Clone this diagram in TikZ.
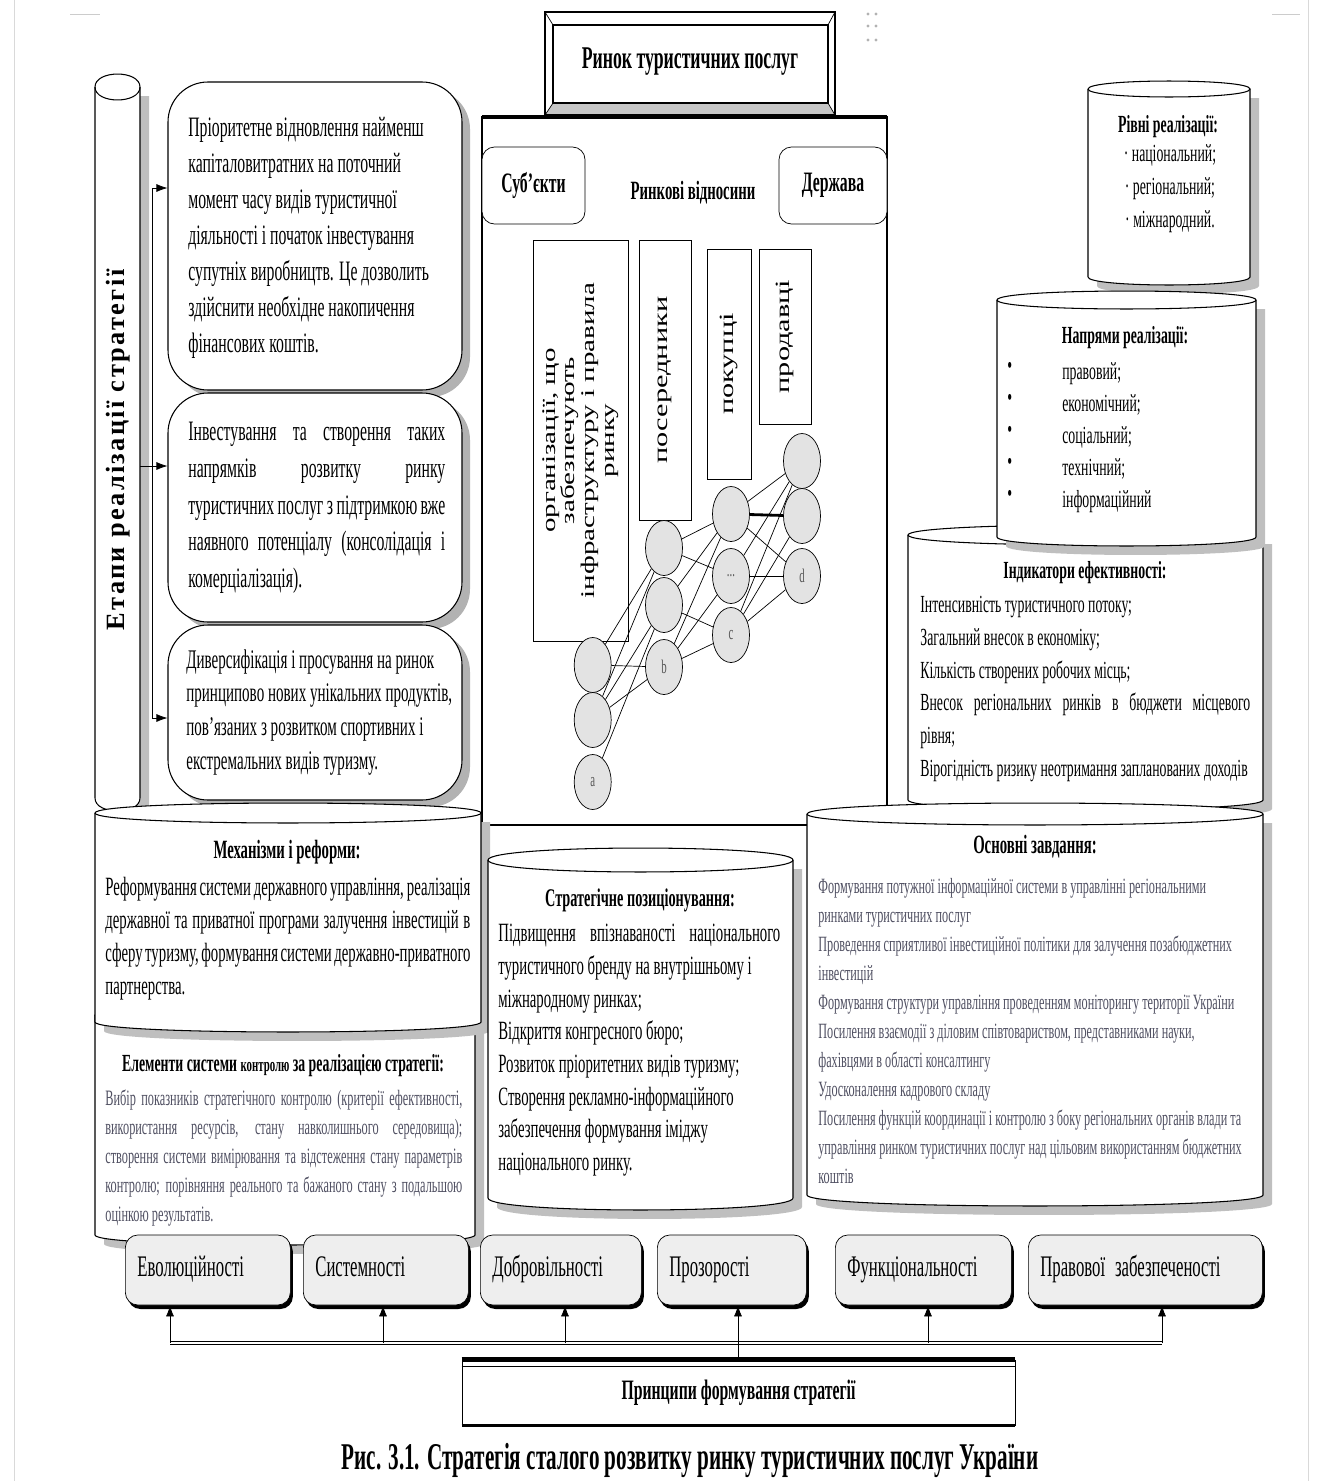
\documentclass[tikz,border=0pt]{standalone}
\usepackage{fontspec}
\setmainfont{Liberation Serif}[FakeStretch=0.56]
\newfontfamily\rfont{Liberation Serif}[FakeStretch=1.5]
\newfontfamily\efont{Liberation Serif}[LetterSpace=9]
\usetikzlibrary{calc, shapes.geometric, arrows.meta, shadows}
\definecolor{greytxt}{RGB}{80,80,98}
\newcommand{\fs}[2]{\fontsize{#1}{#2}\selectfont}
\newcommand{\jl}[2]{\makebox[#1][s]{#2}}
\newcommand{\cyl}[5]{
    % #1: x left, #2: y of lid, #3: x right, #4: y of bottom, #5: lid radius
    \fill[gray!50] (#1+9,#2+9) -- (#1+9,#4+9) .. controls (#1+9,#4+9+1.33*#5) and (#3+9,#4+9+1.33*#5) .. (#3+9,#4+9) -- (#3+9,#2+9) -- cycle;
    \filldraw[fill=white, semithick] (#1,#2) -- (#1,#4) .. controls (#1,#4+1.33*#5) and (#3,#4+1.33*#5) .. (#3,#4) -- (#3,#2) .. controls (#3,#2-1.33*#5) and (#1,#2-1.33*#5) .. cycle;
    \draw[semithick] (#1,#2) .. controls (#1,#2+1.33*#5) and (#3,#2+1.33*#5) .. (#3,#2);
}

\begin{document}
\begin{tikzpicture}[x=0.2mm, y=-0.2mm]
    \useasboundingbox (0,0) rectangle (1317,1481);
    \tikzstyle{txt}=[inner sep=0, anchor=north west, align=left]
    \tikzstyle{head}=[inner sep=0, font=\bfseries\fs{14}{16}]
    \tikzstyle{stage}=[draw, semithick, rounded corners=8mm, fill=white, minimum width=58.8mm, inner sep=0, drop shadow={fill=gray!60, opacity=1, shadow xshift=1.6mm, shadow yshift=-1.4mm}]
    \tikzstyle{subbox}=[draw, rounded corners=2.5mm, fill=white, inner sep=0, font=\bfseries\fs{16}{18}]
    \tikzstyle{vbox}=[draw, rotate=90, inner sep=0, font=\rfont\fs{11.5}{13}]
    \tikzstyle{neuron}=[ellipse, draw, fill=gray!22, minimum width=7.4mm, minimum height=11mm, inner sep=0, font=\fs{11}{12}, text=gray!70!black]
    \tikzstyle{princ}=[draw, rounded corners=2.5mm, fill=gray!13, minimum height=14mm, inner xsep=2.4mm, text height=3.6mm, text depth=1.2mm, anchor=west, align=left, font=\fs{17}{19}, drop shadow={fill=black, opacity=1, shadow xshift=0.5mm, shadow yshift=-0.8mm}]
    \tikzstyle{arr}=[-{Latex[length=2.2mm,width=1.6mm]}]

    % page edges
    \draw[gray!30] (14,0) -- (14,1481) (1308,0) -- (1308,1481);
    \draw[gray!40] (70,14) -- (100,14) (1272,14) -- (1300,14);
    \foreach \gx in {868,876}
        \foreach \gy in {14,26,40}
            \fill[gray!60] (\gx,\gy) circle[radius=1.6];

    % market frame
    \draw[semithick] (482,117) rectangle (887,825);
    \draw[line width=0.9mm] (482,117) -- (887,117);
    \fill[white] (545,12) rectangle (835,115);
    \fill[gray!45] (545,115) -- (553,103) -- (828,103) -- (835,115) -- cycle;
    \draw[line width=1.2pt] (545,12) rectangle (835,115);
    \draw[line width=0.8pt] (553,25) rectangle (828,103);
    \draw (545,12) -- (553,25) (835,12) -- (828,25) (545,115) -- (553,103) (835,115) -- (828,103);
    \node[inner sep=0, font=\bfseries\fs{18}{20}] (rynok) at (690,62) {Ринок туристичних послуг};

    \node[subbox, minimum width=20.6mm, minimum height=15.4mm] (subj) at (533.5,185.5) {Суб'єкти};
    \node[subbox, minimum width=21.6mm, minimum height=15.4mm] (derzh) at (833,185.5) {Держава};
    \node[inner sep=0, font=\bfseries\fs{15}{17}] (vidn) at (693,193) {Ринкові відносини};

    \node[vbox, minimum width=80.2mm, minimum height=19mm, align=center, font=\rfont\fs{11}{11.2}] (orgs) at (580.5,440.5) {організації, що\\забезпечують\\інфраструктуру і правила\\ринку};
    \node[vbox, minimum width=56mm, minimum height=10.4mm] (poser) at (665,380) {посередники};
    \node[vbox, minimum width=46mm, minimum height=8.8mm] (pokup) at (729,364) {покупці};
    \node[vbox, minimum width=35mm, minimum height=10.4mm] (prod) at (785,336.5) {продавці};

    % network of participants
    \node[neuron] (a1) at (592.7,665) {};
    \node[neuron] (a2) at (592.7,720) {};
    \node[neuron] (a3) at (592.7,782) {a};
    \node[neuron] (b1) at (664,548) {};
    \node[neuron] (b2) at (664,605) {};
    \node[neuron] (b3) at (664,667) {b};
    \node[neuron] (c1) at (731,514) {};
    \node[neuron] (c2) at (731,576) {...};
    \node[neuron] (c3) at (731,635) {c};
    \node[neuron] (d1) at (802,461) {};
    \node[neuron] (d2) at (802,516) {};
    \node[neuron] (d3) at (802,576) {d};
    \foreach \u/\v in {a1/b1, a1/b3, a2/b1, a2/b2, a2/b3, a3/b2, b1/c1, b1/c2, b2/c1, b2/c3, b3/c1, b3/c2, b3/c3, c1/d1, c1/d3, c2/d1, c2/d3, c3/d1, c3/d2, c3/d3}
        \draw (\u) -- (\v);
    \draw[line width=1.6pt] (c1) -- (d2);

    % stages of the strategy
    \cyl{95}{87}{140}{798}{13}
    \node[rotate=90, inner sep=0, font=\efont\bfseries\fs{15}{17}] (etapy) at (118,450) {Етапи реалізації стратегії};
    \node[stage, minimum height=61.6mm] (stage1) at (315,236) {};
    \node[stage, minimum height=45.8mm] (stage2) at (315,507.5) {};
    \node[stage, minimum height=35mm] (stage3) at (315,712.5) {};
    \coordinate (st1) at (152,188);
    \coordinate (st2) at (140,466);
    \coordinate (st3) at (152,718);
    \draw (st1) -- (st3);
    \draw[arr] (st1) -- (st1 -| stage1.west);
    \draw[arr] (st2) -- (st2 -| stage2.west);
    \draw[arr] (st3) -- (st3 -| stage3.west);
    \node[txt, font=\fs{16}{20.5}] (stage1t) at (188,117) {Пріоритетне відновлення найменш\\капіталовитратних на поточний\\момент часу видів туристичної\\діяльності і початок інвестування\\супутніх виробництв. Це дозволить\\здійснити необхідне накопичення\\фінансових коштів.};
    \node[txt, font=\fs{16}{20.9}] (stage2t) at (188,422) {\jl{51.4mm}{Інвестування та створення таких}\\\jl{51.4mm}{напрямків розвитку ринку}\\\jl{51.4mm}{туристичних послуг з підтримкою вже}\\\jl{51.4mm}{наявного потенціалу (консолідація і}\\комерціалізація).};
    \node[txt, font=\fs{15.3}{19.2}] (stage3t) at (186,649) {Диверсифікація і просування на ринок\\принципово нових унікальних продуктів,\\пов'язаних з розвитком спортивних і\\екстремальних видів туризму.};

    % right column
    \cyl{908}{535}{1263}{800}{10}
    \cyl{807}{814}{1263}{1195}{11}
    \cyl{1088}{89}{1250}{277}{8}
    \cyl{997}{300}{1256}{537}{9}
    \node[head] (rivniT) at (1168,127) {Рівні реалізації:};
    \node[inner sep=0, align=center, font=\fs{14}{18.8}] (rivni) at (1170,189) {· національний;\\· регіональний;\\· міжнародний.};
    \node[head] (napryT) at (1125,338) {Напрями реалізації:};
    \node[txt, font=\fs{14}{18.2}] (napryB) at (1007,362) {•\\•\\•\\•\\•};
    \node[txt, font=\fs{14}{18.2}] (napry) at (1062,362) {правовий;\\економічний;\\соціальний;\\технічний;\\інформаційний};
    \node[head] (indT) at (1085,573) {Індикатори ефективності:};
    \node[txt, font=\fs{14}{18.6}] (ind) at (920,596) {Інтенсивність туристичного потоку;\\Загальний внесок в економіку;\\Кількість створених робочих місць;\\\jl{66mm}{Внесок регіональних ринків в бюджети місцевого}\\рівня;\\Вірогідність ризику неотримання запланованих доходів};
    \node[head, font=\bfseries\fs{15}{17}] (zavdT) at (1035,847) {Основні завдання:};
    \node[txt, font=\fs{12.4}{16.5}, text=greytxt] (zavd) at (818,878) {Формування потужної інформаційної системи в управлінні регіональними\\ринками туристичних послуг\\Проведення сприятливої інвестиційної політики для залучення позабюджетних\\інвестицій\\Формування структури управління проведенням моніторингу території України\\Посилення взаємодії з діловим співтовариством, представниками науки,\\фахівцями в області консалтингу\\Удосконалення кадрового складу\\Посилення функцій координації і контролю з боку регіональних органів влади та\\управління ринком туристичних послуг над цільовим використанням бюджетних\\коштів};

    % left bottom cylinders
    \cyl{95}{1015}{475}{1235}{10}
    \cyl{95}{813}{481}{1022}{10}
    \node[head, font=\bfseries\fs{15}{17}] (mechT) at (287,852) {Механізми і реформи:};
    \node[txt, font=\fs{15}{18.8}] (mech) at (105,877) {\jl{73mm}{Реформування системи державного управління, реалізація}\\\jl{73mm}{державної та приватної програми залучення інвестицій в}\\\jl{73mm}{сферу туризму, формування системи державно-приватного}\\партнерства.};
    \node[head] (controlT) at (283,1066) {Елементи системи {\fs{11}{13}контролю} за реалізацією стратегії:};
    \node[txt, font=\fs{12.5}{16.5}, text=greytxt] (control) at (105,1089) {\jl{71.4mm}{Вибір показників стратегічного контролю (критерії ефективності,}\\\jl{71.4mm}{використання ресурсів, стану навколишнього середовища);}\\\jl{71.4mm}{створення системи вимірювання та відстеження стану параметрів}\\\jl{71.4mm}{контролю; порівняння реального та бажаного стану з подальшою}\\оцінкою результатів.};

    % strategic positioning
    \cyl{488}{860}{793}{1198}{12}
    \node[head, font=\bfseries\fs{14.5}{16}] (posT) at (640,900) {Стратегічне позиціонування:};
    \node[txt, font=\fs{15}{18.6}] (pos) at (498,924) {\jl{56.4mm}{Підвищення впізнаваності національного}\\туристичного бренду на внутрішньому і\\міжнародному ринках;\\Відкриття конгресного бюро;\\Розвиток пріоритетних видів туризму;\\Створення рекламно-інформаційного\\забезпечення формування іміджу\\національного ринку.};

    % principles
    \node[princ, minimum width=33mm, text width=28.2mm] (p1) at (125,1270) {Еволюційності};
    \node[princ, minimum width=33mm, text width=28.2mm] (p2) at (303,1270) {Системності};
    \node[princ, minimum width=32.2mm, text width=27.4mm] (p3) at (480,1270) {Добровільності};
    \node[princ, minimum width=29.8mm, text width=25mm] (p4) at (657,1270) {Прозорості};
    \node[princ, minimum width=35.2mm, text width=30.4mm] (p5) at (835,1270) {Функціональності};
    \node[princ, minimum width=46.8mm, text width=42mm] (p6) at (1028,1270) {\mbox{Правової забезпеченості}};
    \node[draw, minimum width=110.6mm, minimum height=13mm, font=\bfseries\fs{16}{18}] (prin) at (738.5,1392.5) {Принципи формування стратегії};
    \draw[line width=1mm] (prin.north west) -- (prin.north east);
    \draw ([yshift=-1.3mm]prin.north west) -- ([yshift=-1.3mm]prin.north east);
    \draw[line width=0.6mm] (prin.south west) -- (prin.south east);
    \coordinate (bus1) at (170,1343);
    \coordinate (bus2) at (383,1343);
    \coordinate (bus3) at (565,1343);
    \coordinate (bus4) at (738,1343);
    \coordinate (bus5) at (928,1343);
    \coordinate (bus6) at (1162,1343);
    \draw[double, double distance=0.4mm] (bus1) -- (bus6);
    \foreach \i in {1,...,6}
        \draw[arr] (bus\i) -- (bus\i |- p\i.south);
    \draw (prin.north -| bus4) -- (bus4);

    \node[anchor=base, inner sep=0, font=\bfseries\fs{21.5}{24}] (caption) at (690,1469) {Рис. 3.1. Стратегія сталого розвитку ринку туристичних послуг України};
\end{tikzpicture}
\end{document}
